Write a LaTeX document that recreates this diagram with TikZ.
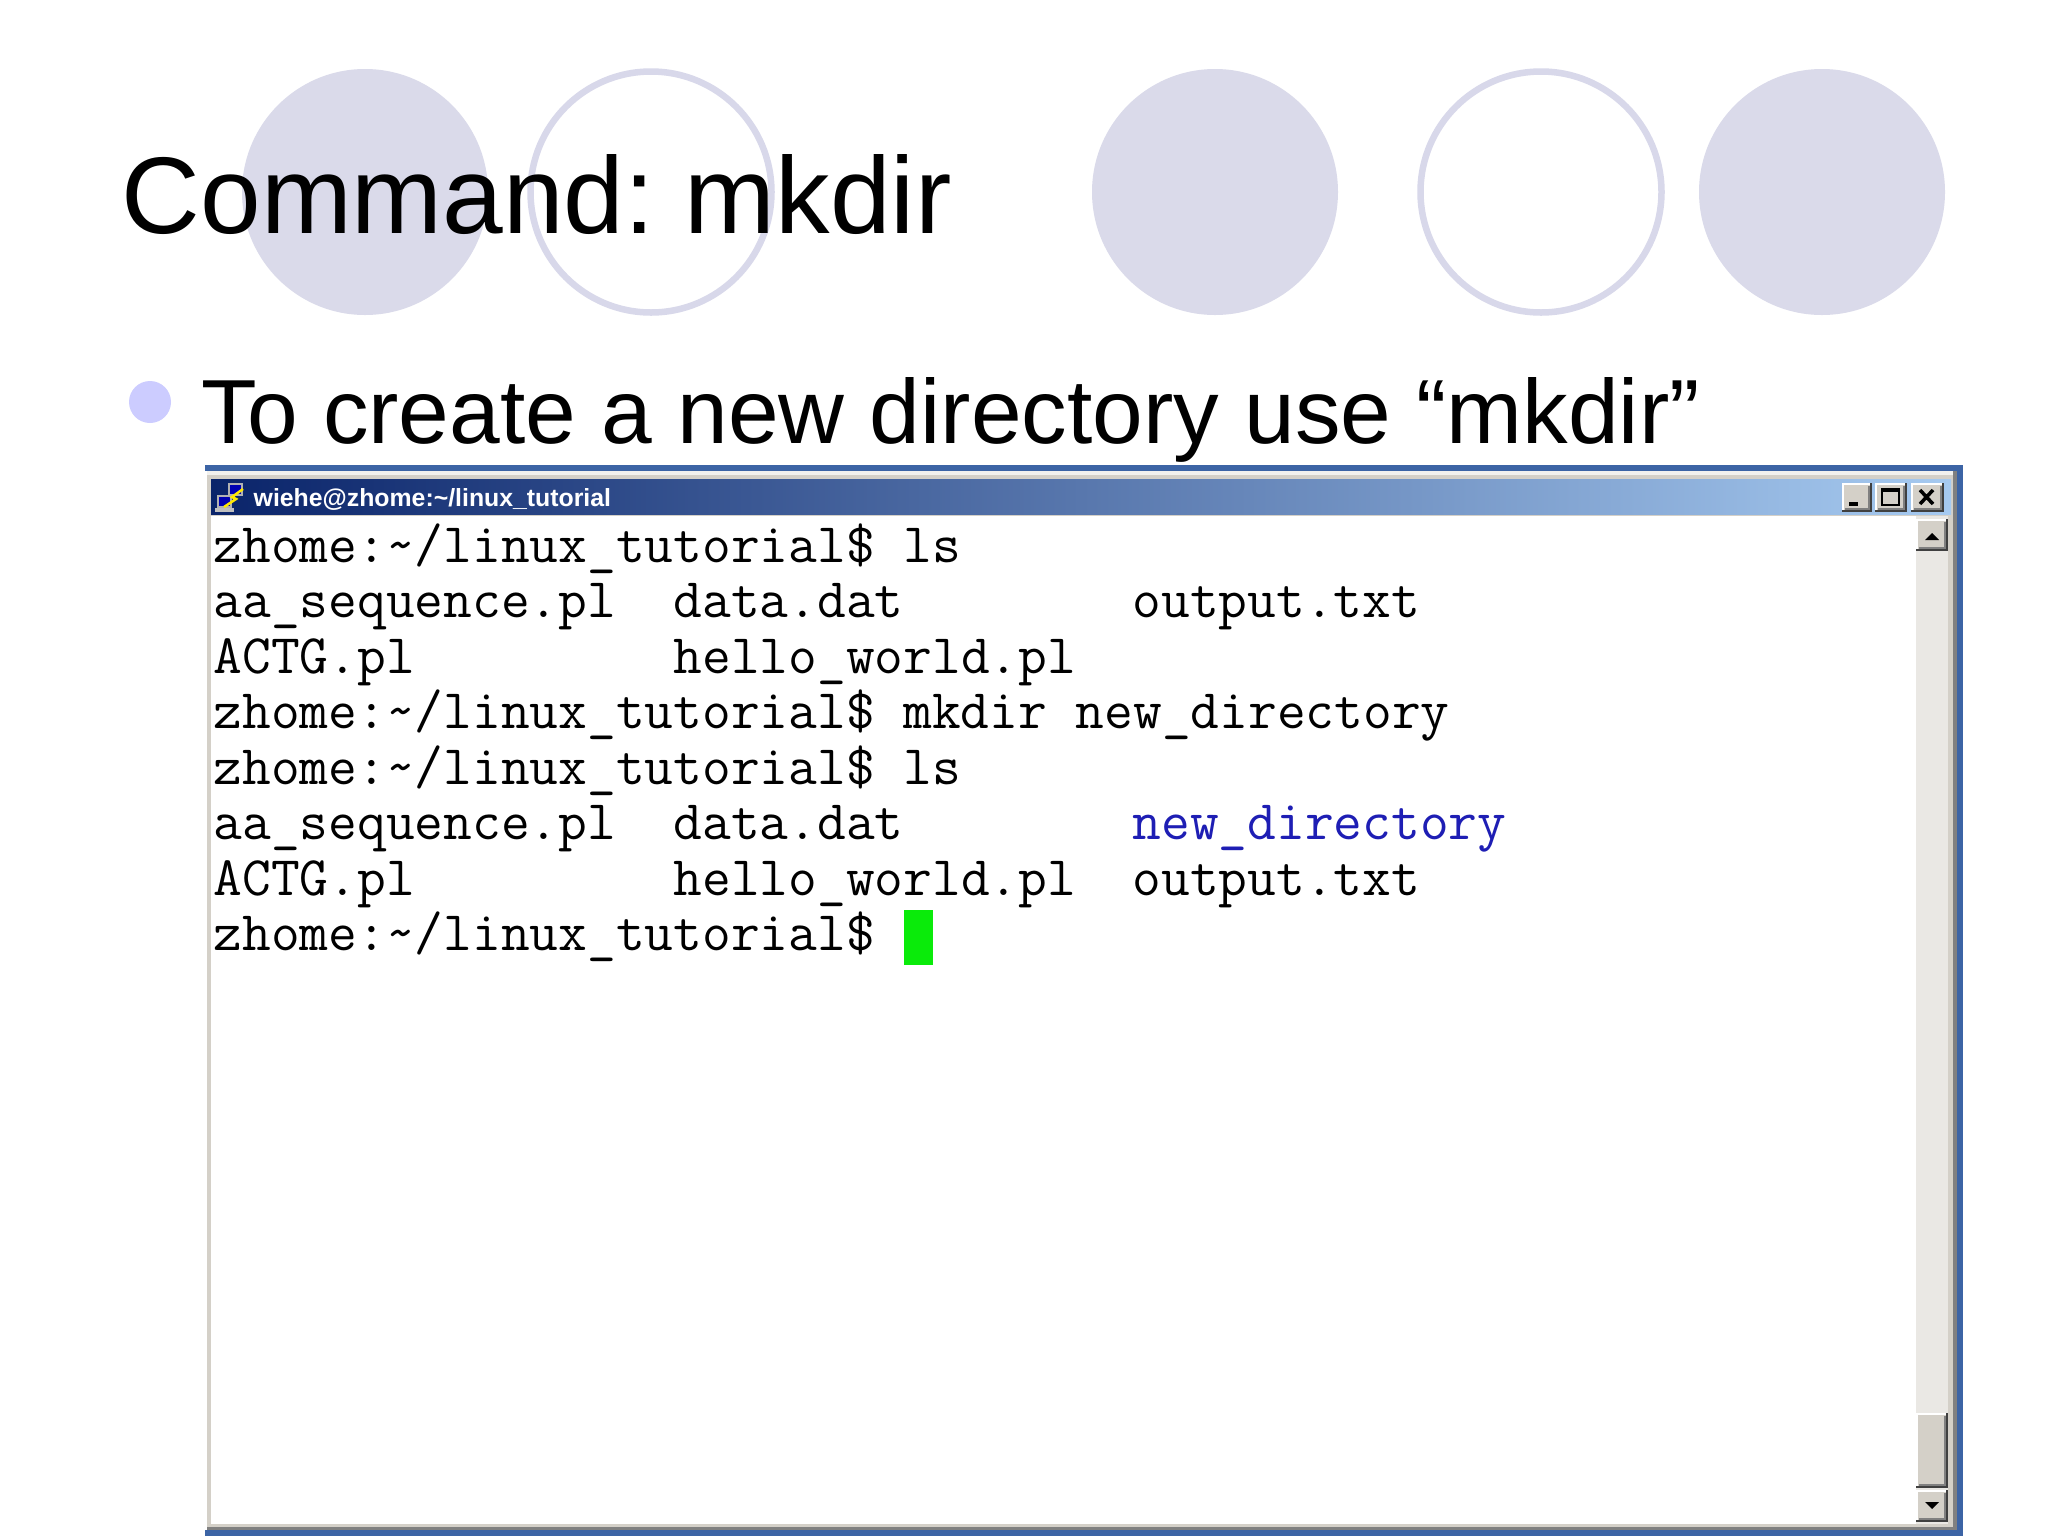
\documentclass[tikz,border=0pt]{standalone}
\usepackage{fontspec}
\setmainfont{Liberation Sans}
\frenchspacing
\definecolor{lav}{RGB}{218,218,234}
\definecolor{lavline}{RGB}{216,216,234}
\definecolor{bulletc}{RGB}{204,204,255}
\definecolor{winblue}{RGB}{60,100,165}
\definecolor{wgray}{RGB}{212,208,200}
\definecolor{wdark}{RGB}{128,128,128}
\definecolor{tbdark}{RGB}{10,36,106}
\definecolor{tblight}{RGB}{166,202,240}
\definecolor{dirblue}{RGB}{30,30,180}
\definecolor{curgreen}{RGB}{10,235,10}
\definecolor{trackc}{RGB}{234,232,228}
\newcommand\wbtn[4]{%
  \fill[wgray] (#1,#2) rectangle (#3,#4);
  \draw[white,line width=0.02cm] (#1+1,#4-2) -- (#1+1,#2+1) -- (#3-2,#2+1);
  \draw[wdark,line width=0.02cm] (#1+3,#4-3) -- (#3-3,#4-3) -- (#3-3,#2+3);
  \draw[black!75,line width=0.02cm] (#1,#4-1) -- (#3-1,#4-1) -- (#3-1,#2);
}
\tikzset{
  tt/.style={font=\ttfamily\fontsize{15.87}{16}\selectfont, anchor=base west, inner sep=0pt},
  slidetext/.style={anchor=base west, inner sep=0pt},
}
\begin{document}
\begin{tikzpicture}[x=0.01cm,y=-0.01cm]
\useasboundingbox (0,0) rectangle (2048,1536);
\fill[white] (0,0) rectangle (2048,1536);
% decorative circles
\fill[lav] (365,192) circle (123);
\draw[lavline,line width=0.065cm] (651,192) circle (120.5);
\fill[lav] (1215,192) circle (123);
\draw[lavline,line width=0.065cm] (1541,192) circle (120.5);
\fill[lav] (1822,192) circle (123);
% title
\node[slidetext,font=\fontsize{31}{36}\selectfont] (title) at (121,233) {Command: mkdir};
% bullet
\fill[bulletc] (150,402) circle (21);
\node[slidetext,font=\fontsize{25.9}{30}\selectfont] (btext) at (201,443) {To create a new directory use “mkdir”};
% window frame
\fill[winblue] (205,465) rectangle (1963,471);
\fill[winblue] (1957,465) rectangle (1963,1536);
\fill[winblue] (205,1530) rectangle (1963,1536);
\fill[wgray] (207,471) rectangle (1957,1530);
\fill[white!70!wgray] (207,471) rectangle (1957,475);
\fill[wdark] (1953,471) rectangle (1957,1530);
\fill[wdark] (207,1527) rectangle (1957,1530);
% title bar
\shade[left color=tbdark,right color=tblight] (211,479) rectangle (1951,514);
% icon
\fill[gray!60] (228,483) rectangle (243,496);
\fill[blue!70!black] (230,485) rectangle (241,494);
\fill[gray!60] (217,495) rectangle (232,508);
\fill[blue!70!black] (219,497) rectangle (230,506);
\fill[gray!50] (215,508) rectangle (234,512);
\draw[yellow!90!orange,line width=0.025cm] (243,489) -- (232,497) -- (236,499) -- (224,507);
\node[slidetext,font=\bfseries\fontsize{7.06}{8}\selectfont,text=white] (tbtext) at (253,506) {wiehe@zhome:\textasciitilde/linux\_tutorial};
% title bar buttons
\wbtn{1842}{483}{1872}{512}
\fill[black] (1849,502) rectangle (1858,506);
\wbtn{1875}{483}{1907}{512}
\draw[black,line width=0.02cm] (1882,489) rectangle (1899,505);
\fill[black] (1882,489) rectangle (1899,492);
\wbtn{1911}{483}{1944}{512}
\draw[black,line width=0.035cm] (1920,490) -- (1933,504) (1933,490) -- (1920,504);
% terminal area
\fill[white] (211,516) rectangle (1916,1524);
% scrollbar
\fill[trackc] (1916,516) rectangle (1948,1524);
\wbtn{1916}{519}{1948}{551}
\fill[black] (1925,540) -- (1939,540) -- (1932,533) -- cycle;
\wbtn{1916}{1413}{1948}{1488}
\wbtn{1916}{1490}{1948}{1522}
\fill[black] (1925,1502) -- (1939,1502) -- (1932,1509) -- cycle;
% terminal text
\node[tt] (l1) at (213,562) {zhome:\textasciitilde/linux\_tutorial\$ ls};
\node[tt] (l2a) at (213,617.5) {aa\_sequence.pl};
\node[tt] (l2b) at (673,617.5) {data.dat};
\node[tt] (l2c) at (1132,617.5) {output.txt};
\node[tt] (l3a) at (213,673) {ACTG.pl};
\node[tt] (l3b) at (673,673) {hello\_world.pl};
\node[tt] (l4) at (213,728.5) {zhome:\textasciitilde/linux\_tutorial\$ mkdir new\_directory};
\node[tt] (l5) at (213,784) {zhome:\textasciitilde/linux\_tutorial\$ ls};
\node[tt] (l6a) at (213,839.5) {aa\_sequence.pl};
\node[tt] (l6b) at (673,839.5) {data.dat};
\node[tt,text=dirblue] (l6c) at (1132,839.5) {new\_directory};
\node[tt] (l7a) at (213,895) {ACTG.pl};
\node[tt] (l7b) at (673,895) {hello\_world.pl};
\node[tt] (l7c) at (1132,895) {output.txt};
\node[tt] (l8) at (213,950.5) {zhome:\textasciitilde/linux\_tutorial\$};
\fill[curgreen] (904,910) rectangle (933,965);
\end{tikzpicture}
\end{document}
